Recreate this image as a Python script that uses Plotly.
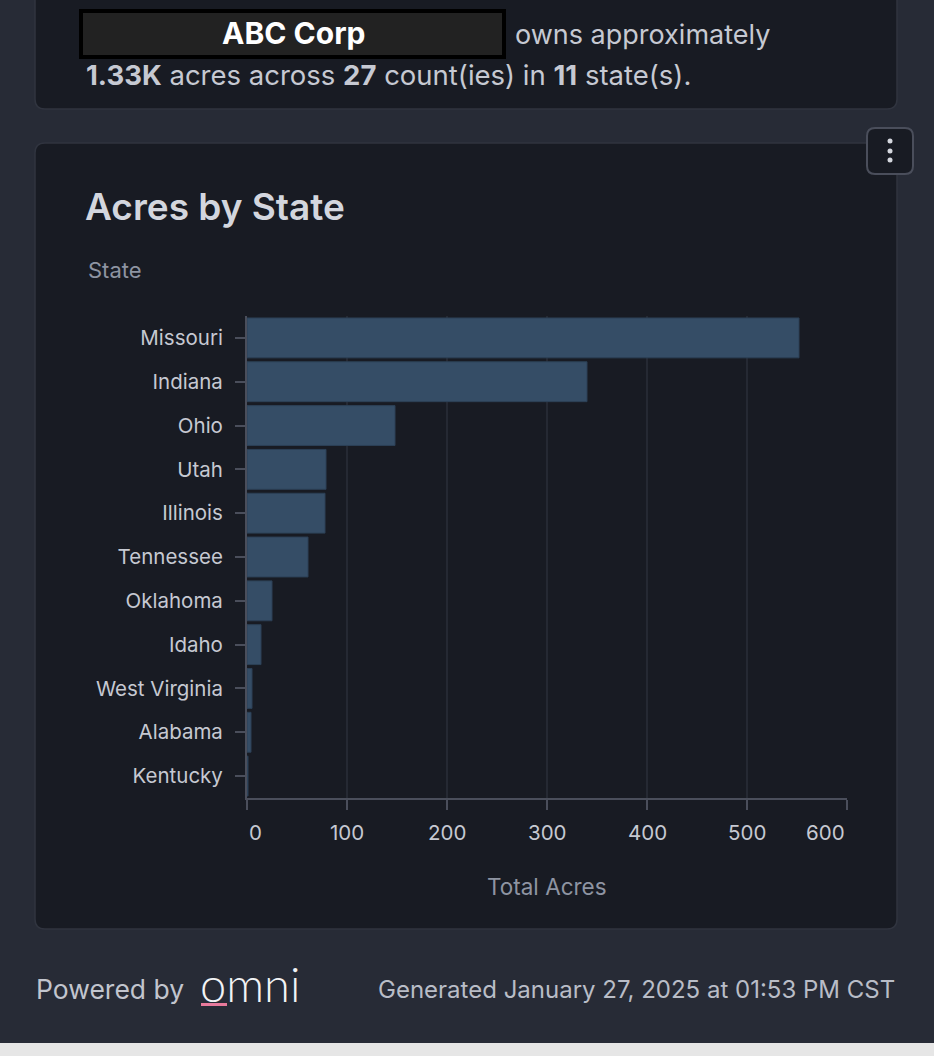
import plotly.graph_objects as go

W, H = 934, 1056

states = ["Missouri", "Indiana", "Ohio", "Utah", "Illinois", "Tennessee",
          "Oklahoma", "Idaho", "West Virginia", "Alabama", "Kentucky"]
acres = [552, 340, 148, 79, 78, 61, 25, 14, 5, 4, 1]
x_tick_vals = [0, 100, 200, 300, 400, 500, 600]
x_tick_text = ["0", "100", "200", "300", "400", "500", "600"]

PAGE_BG = "#272b36"
CARD_BG = "#181b23"
CARD_BORDER = "#30343f"
AXIS = "#4a4e5b"
GRID = "#252933"
BAR = "#354d66"
LABEL = "#c6c9d2"
MUTED = "#8e94a2"
FONT = "Inter, Roboto, sans-serif"


def px(x):
    return x / W


def py(y):
    return 1 - y / H


def rrect(x0, y0, x1, y1, r):
    rx, ry = r / W, r / H
    X0, X1 = px(x0), px(x1)
    Y0, Y1 = py(y0), py(y1)  # Y0 top (larger), Y1 bottom
    return (f"M {X0+rx},{Y0} L {X1-rx},{Y0} Q {X1},{Y0} {X1},{Y0-ry} "
            f"L {X1},{Y1+ry} Q {X1},{Y1} {X1-rx},{Y1} L {X0+rx},{Y1} "
            f"Q {X0},{Y1} {X0},{Y1+ry} L {X0},{Y0-ry} Q {X0},{Y0} {X0+rx},{Y0} Z")


fig = go.Figure()
fig.add_trace(go.Bar(
    x=acres, y=states, orientation="h",
    marker=dict(color=BAR, line=dict(color="#2c4056", width=1)),
    hoverinfo="skip",
))

shapes = [
    # top card
    dict(type="path", path=rrect(35, -30, 897, 109, 10), xref="paper", yref="paper",
         fillcolor=CARD_BG, line=dict(color=CARD_BORDER, width=1.5), layer="below"),
    # chart card
    dict(type="path", path=rrect(35, 143, 897, 929, 10), xref="paper", yref="paper",
         fillcolor=CARD_BG, line=dict(color=CARD_BORDER, width=1.5), layer="below"),
    # black name box
    dict(type="rect", x0=px(81), x1=px(504), y0=py(11), y1=py(57), xref="paper", yref="paper",
         fillcolor="#222222", line=dict(color="#000000", width=4), layer="below"),
    # menu button
    dict(type="path", path=rrect(867, 128, 913, 174, 8), xref="paper", yref="paper",
         fillcolor=CARD_BG, line=dict(color="#4a4e5b", width=2), layer="above"),
    # bottom light strip
    dict(type="rect", x0=0, x1=1, y0=0, y1=py(1043), xref="paper", yref="paper",
         fillcolor="#e6e6e6", line=dict(width=0), layer="below"),
    # omni underline
    dict(type="rect", x0=px(201), x1=px(227), y0=py(1006), y1=py(1003), xref="paper", yref="paper",
         fillcolor="#e87a9c", line=dict(width=0), layer="above"),
]
for cy in (141, 151, 160):
    shapes.append(dict(type="circle", xref="paper", yref="paper",
                       x0=px(887.5), x1=px(892.5), y0=py(cy + 2.5), y1=py(cy - 2.5),
                       fillcolor="#d4d7de", line=dict(width=0), layer="above"))

annotations = [
    dict(text="<b>ABC Corp</b>", x=px(293), y=py(33), font=dict(size=30, color="#ffffff", family=FONT)),
    dict(text="owns approximately", x=px(513), y=py(34), xanchor="left",
         font=dict(size=27, color=LABEL, family=FONT)),
    dict(text="<b>1.33K</b> acres across <b>27</b> count(ies) in <b>11</b> state(s).",
         x=px(84), y=py(75), xanchor="left", font=dict(size=27.5, color=LABEL, family=FONT)),
    dict(text="Acres by State", x=px(83), y=py(206), xanchor="left",
         font=dict(size=37, color="#d3d6de", family=FONT, weight=600)),
    dict(text="State", x=px(86), y=py(270), xanchor="left",
         font=dict(size=22, color=MUTED, family=FONT)),
    dict(text="Total Acres", x=px(547), y=py(886),
         font=dict(size=22.5, color=MUTED, family=FONT)),
    dict(text="Powered by", x=px(34), y=py(989), xanchor="left",
         font=dict(size=26.5, color="#c2c5ce", family=FONT)),
    dict(text="omni", x=px(198), y=py(984), xanchor="left",
         font=dict(size=47, color="#f2f3f5", family="Lato", weight=300)),
    dict(text="Generated January 27, 2025 at 01:53 PM CST", x=px(897), y=py(989), xanchor="right",
         font=dict(size=24, color="#b9bdc7", family=FONT)),
]
for v, t in zip(x_tick_vals, x_tick_text):
    anchor = "left" if v == x_tick_vals[0] else ("right" if v == x_tick_vals[-1] else "center")
    annotations.append(dict(text=t, x=v, xref="x", y=py(832), yref="paper", xanchor=anchor,
                            font=dict(size=20.5, color=LABEL, family=FONT)))

for a in annotations:
    a.setdefault("xref", "paper")
    a.setdefault("yref", "paper")
    a.setdefault("xanchor", "center")
    a["yanchor"] = "middle"
    a["showarrow"] = False

fig.update_layout(
    width=W, height=H,
    margin=dict(l=0, r=0, t=0, b=0),
    paper_bgcolor=PAGE_BG,
    plot_bgcolor="rgba(0,0,0,0)",
    showlegend=False,
    bargap=0.09,
    shapes=shapes,
    annotations=annotations,
    xaxis=dict(domain=[px(247), px(847)], range=[0, 600], tickvals=x_tick_vals,
               showticklabels=False, ticks="outside", ticklen=10, tickwidth=2, tickcolor=AXIS,
               showline=True, linecolor=AXIS, linewidth=2, showgrid=True, gridcolor=GRID,
               gridwidth=1.5, zeroline=False, fixedrange=True),
    yaxis=dict(domain=[py(798), py(316)], categoryorder="array", categoryarray=states,
               autorange="reversed", ticks="outside", ticklen=10, tickwidth=2, tickcolor=AXIS,
               showline=True, linecolor=AXIS, linewidth=2, showgrid=False,
               tickfont=dict(size=20.5, color=LABEL, family=FONT), ticklabelstandoff=8,
               fixedrange=True),
)

fig.write_html("out.html", config={"displayModeBar": False})
